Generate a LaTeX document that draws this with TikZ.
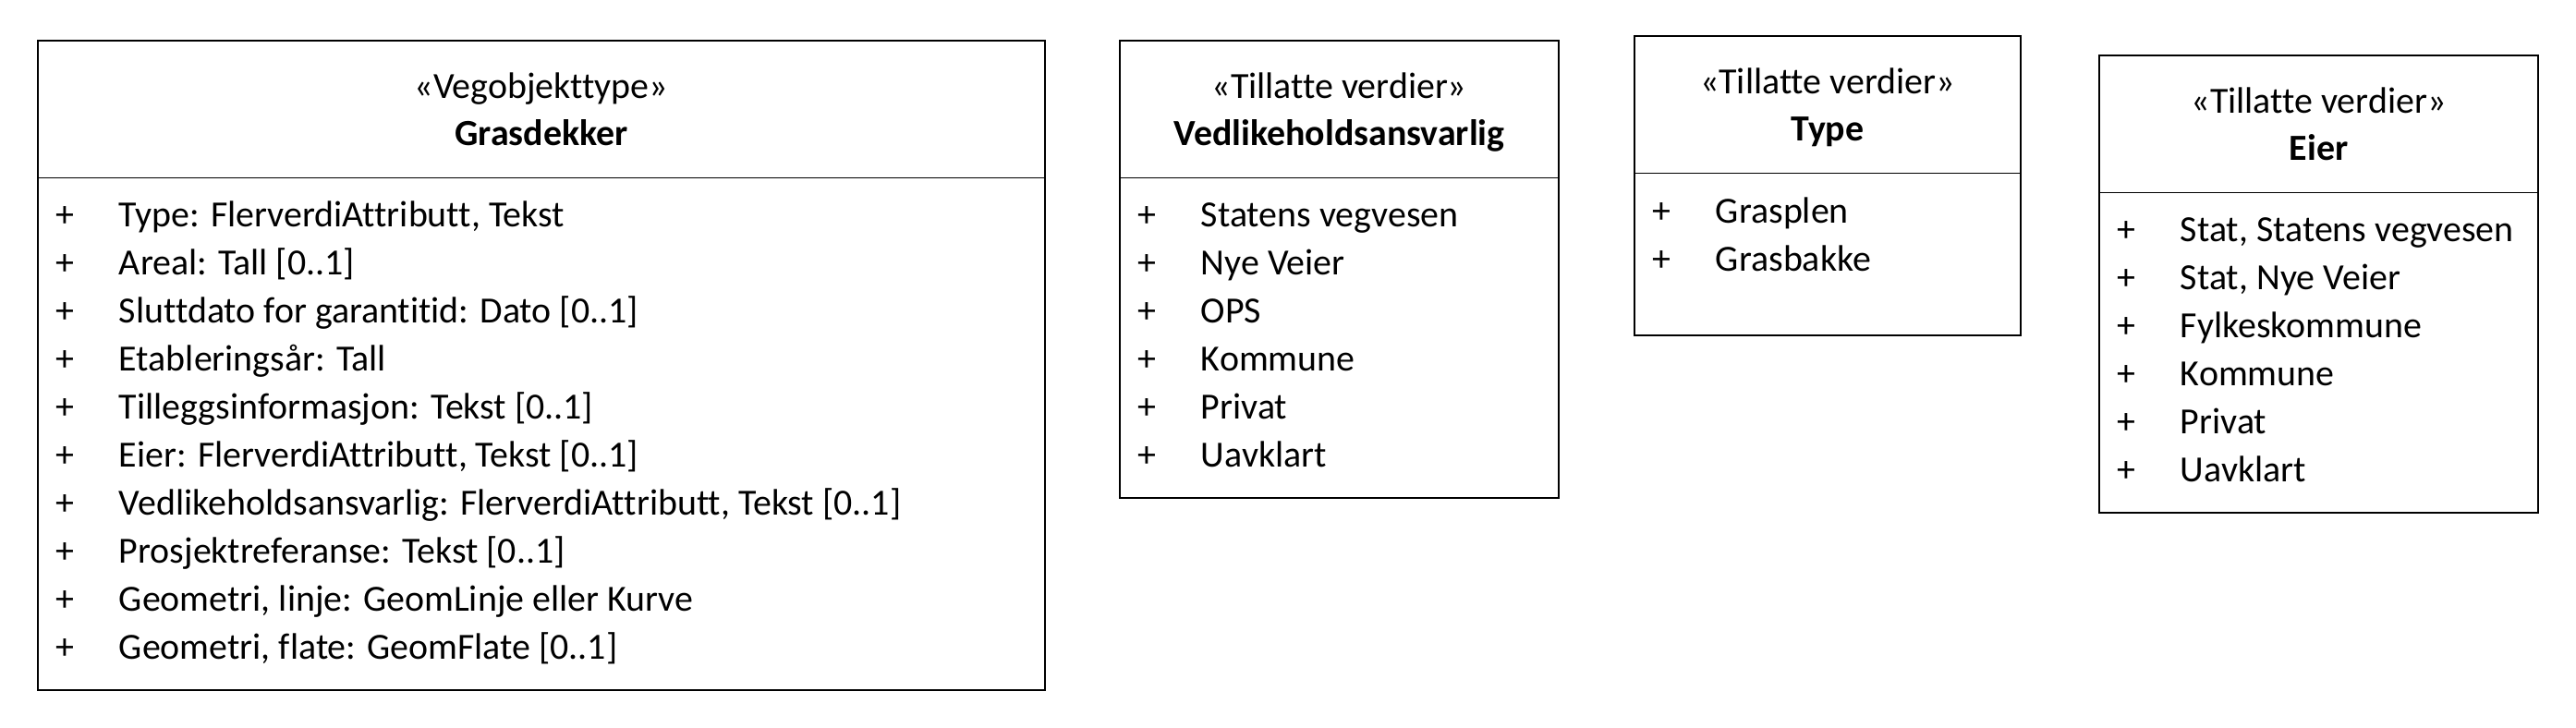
\documentclass[tikz,border=0pt]{standalone}
\usepackage{fontspec}
\setmainfont{Carlito}[Ligatures=NoCommon]
\usepackage{tikz}

\begin{document}
\begin{tikzpicture}[font=\fontsize{11.35pt}{13.6pt}\selectfont,
        line width=0.55pt,
        every node/.style={inner sep=0pt},
        attr/.style={anchor=base west},
        head/.style={anchor=base}]
        \useasboundingbox (0,0) rectangle (27.88,7.88);

        % Grasdekker
        \draw (0.41,0.41) rectangle (11.31,7.44);
        \draw (0.41,5.955) -- (11.31,5.955);
        \node[head] (grasdekkerst) at (5.86,6.815) {«Vegobjekttype»};
        \node[head] (grasdekker)   at (5.86,6.305) {\textbf{Grasdekker}};

        \node[attr] (type)      at (0.60,5.42) {\makebox[0.68cm][l]{+}Type: FlerverdiAttributt, Tekst};
        \node[attr] (areal)     at (0.60,4.90) {\makebox[0.68cm][l]{+}Areal: Tall [0..1]};
        \node[attr] (sluttdato) at (0.60,4.38) {\makebox[0.68cm][l]{+}Sluttdato for garantitid: Dato [0..1]};
        \node[attr] (etabl)     at (0.60,3.86) {\makebox[0.68cm][l]{+}Etableringsår: Tall};
        \node[attr] (tillegg)   at (0.60,3.34) {\makebox[0.68cm][l]{+}Tilleggsinformasjon: Tekst [0..1]};
        \node[attr] (eier)      at (0.60,2.82) {\makebox[0.68cm][l]{+}Eier: FlerverdiAttributt, Tekst [0..1]};
        \node[attr] (vedlikeh)  at (0.60,2.30) {\makebox[0.68cm][l]{+}Vedlikeholdsansvarlig: FlerverdiAttributt, Tekst [0..1]};
        \node[attr] (prosjekt)  at (0.60,1.78) {\makebox[0.68cm][l]{+}Prosjektreferanse: Tekst [0..1]};
        \node[attr] (geomlinje) at (0.60,1.26) {\makebox[0.68cm][l]{+}Geometri, linje: GeomLinje eller Kurve};
        \node[attr] (geomflate) at (0.60,0.74) {\makebox[0.68cm][l]{+}Geometri, flate: GeomFlate [0..1]};

        % Vedlikeholdsansvarlig
        \draw (12.12,2.49) rectangle (16.87,7.44);
        \draw (12.12,5.955) -- (16.87,5.955);
        \node[head] (vedlikehst) at (14.495,6.815) {«Tillatte verdier»};
        \node[head] (vedlikehv)  at (14.495,6.305) {\textbf{Vedlikeholdsansvarlig}};

        \node[attr] (statensv) at (12.31,5.42) {\makebox[0.68cm][l]{+}Statens vegvesen};
        \node[attr] (nyev)     at (12.31,4.90) {\makebox[0.68cm][l]{+}Nye Veier};
        \node[attr] (ops)      at (12.31,4.38) {\makebox[0.68cm][l]{+}OPS};
        \node[attr] (kommunev) at (12.31,3.86) {\makebox[0.68cm][l]{+}Kommune};
        \node[attr] (privatv)  at (12.31,3.34) {\makebox[0.68cm][l]{+}Privat};
        \node[attr] (uavklv)   at (12.31,2.82) {\makebox[0.68cm][l]{+}Uavklart};

        % Type
        \draw (17.69,4.25) rectangle (21.87,7.49);
        \draw (17.69,6.005) -- (21.87,6.005);
        \node[head] (typest) at (19.78,6.865) {«Tillatte verdier»};
        \node[head] (typev)  at (19.78,6.355) {\textbf{Type}};

        \node[attr] (grasplen)  at (17.88,5.46) {\makebox[0.68cm][l]{+}Grasplen};
        \node[attr] (grasbakke) at (17.88,4.94) {\makebox[0.68cm][l]{+}Grasbakke};

        % Eier
        \draw (22.72,2.33) rectangle (27.47,7.28);
        \draw (22.72,5.795) -- (27.47,5.795);
        \node[head] (eierst) at (25.095,6.655) {«Tillatte verdier»};
        \node[head] (eierv)  at (25.095,6.145) {\textbf{Eier}};

        \node[attr] (statsvv)  at (22.91,5.26) {\makebox[0.68cm][l]{+}Stat, Statens vegvesen};
        \node[attr] (statnye)  at (22.91,4.74) {\makebox[0.68cm][l]{+}Stat, Nye Veier};
        \node[attr] (fylke)    at (22.91,4.22) {\makebox[0.68cm][l]{+}Fylkeskommune};
        \node[attr] (kommunee) at (22.91,3.70) {\makebox[0.68cm][l]{+}Kommune};
        \node[attr] (private)  at (22.91,3.18) {\makebox[0.68cm][l]{+}Privat};
        \node[attr] (uavkle)   at (22.91,2.66) {\makebox[0.68cm][l]{+}Uavklart};
    \end{tikzpicture}
\end{document}
